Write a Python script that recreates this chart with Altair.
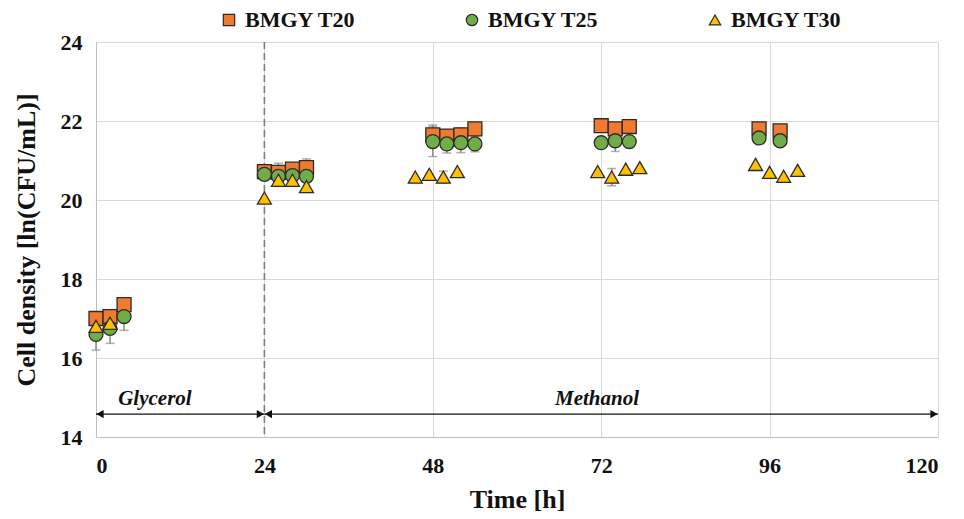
import altair as alt
import pandas as pd

series_names = ["BMGY T20", "BMGY T25", "BMGY T30"]
series_colors = ["#F07B2F", "#70AD47", "#FFC000"]
series_shapes = ["square", "circle", "triangle-up"]

T20_t = [0, 2, 4, 24, 26, 28, 30, 48, 50, 52, 54, 72, 74, 76, 94.5, 97.5]
T20_v = [17.0, 17.05, 17.35, 20.72, 20.7, 20.78, 20.82, 21.65, 21.62, 21.65, 21.8, 21.88, 21.8, 21.86, 21.8, 21.75]
T20_e = [0, 0, 0, 0, 0.23, 0, 0.22, 0.25, 0, 0.17, 0, 0, 0, 0, 0, 0]

T25_t = [0, 2, 4, 24, 26, 28, 30, 48, 50, 52, 54, 72, 74, 76, 94.5, 97.5]
T25_v = [16.6, 16.75, 17.05, 20.65, 20.6, 20.62, 20.6, 21.48, 21.42, 21.45, 21.42, 21.45, 21.5, 21.48, 21.57, 21.5]
T25_e = [0.4, 0.38, 0.35, 0, 0, 0, 0, 0.38, 0.23, 0.25, 0.2, 0, 0.27, 0, 0.1, 0.1]

T30_t = [0, 2, 24, 26, 28, 30, 45.5, 47.5, 49.5, 51.5, 71.5, 73.5, 75.5, 77.5, 94, 96, 98, 100]
T30_v = [16.8, 16.88, 20.05, 20.5, 20.5, 20.34, 20.58, 20.65, 20.58, 20.72, 20.72, 20.58, 20.78, 20.82, 20.9, 20.7, 20.6, 20.75]
T30_e = [0, 0, 0, 0, 0, 0.15, 0, 0, 0.15, 0, 0, 0.22, 0, 0, 0, 0, 0, 0]

x_ticks = [0, 24, 48, 72, 96, 120]
y_ticks = [14, 16, 18, 20, 22, 24]

# phase annotations
phase_labels = ["Glycerol", "Methanol"]
phase_start = [0, 24]
phase_end = [24, 120]
phase_text_x = [8.4, 71.4]
phase_text_y = 14.95
arrow_y = 14.58
switch_time = 24

rows = []
for name, ts, vs, es in [(series_names[0], T20_t, T20_v, T20_e),
                         (series_names[1], T25_t, T25_v, T25_e),
                         (series_names[2], T30_t, T30_v, T30_e)]:
    for t, v, e in zip(ts, vs, es):
        rows.append({"series": name, "t": t, "v": v, "e": e})
df = pd.DataFrame(rows)

phase_df = pd.DataFrame({"label": phase_labels, "x0": phase_start, "x1": phase_end,
                         "tx": phase_text_x, "ty": [phase_text_y] * 2, "ay": [arrow_y] * 2})

FONT = "Liberation Serif"

xscale = alt.Scale(domain=[0, 120], nice=False, zero=False)
yscale = alt.Scale(domain=[14, 24], nice=False, zero=False)

x_enc = alt.X("t:Q", scale=xscale, title="Time [h]",
              axis=alt.Axis(values=x_ticks, grid=True, ticks=False, labelPadding=18,
                            titlePadding=10, labelFontSize=22, titleFontSize=26,
                            labelFont=FONT, titleFont=FONT, labelFontWeight="bold",
                            titleFontWeight="bold", domainColor="#bfbfbf",
                            gridColor="#d9d9d9", labelColor="#111", titleColor="#111"))
y_enc = alt.Y("v:Q", scale=yscale, title="Cell density [ln(CFU/mL)]",
              axis=alt.Axis(values=y_ticks, grid=True, ticks=False, labelPadding=14,
                            titlePadding=21, labelFontSize=22, titleFontSize=26,
                            labelFont=FONT, titleFont=FONT, labelFontWeight="bold",
                            titleFontWeight="bold", domainColor="#bfbfbf",
                            gridColor="#d9d9d9", labelColor="#111", titleColor="#111"))

base = alt.Chart(df)

err = base.transform_filter("datum.e > 0").transform_calculate(
    lo="datum.v - datum.e", hi="datum.v + datum.e")
err_rule = err.mark_rule(color="#8c8c8c", strokeWidth=1.5).encode(
    x=alt.X("t:Q", scale=xscale), y=alt.Y("lo:Q", scale=yscale), y2="hi:Q")
cap_lo = err.mark_tick(orient="horizontal", color="#8c8c8c", size=9, thickness=1.5).encode(
    x=alt.X("t:Q", scale=xscale), y=alt.Y("lo:Q", scale=yscale))
cap_hi = err.mark_tick(orient="horizontal", color="#8c8c8c", size=9, thickness=1.5).encode(
    x=alt.X("t:Q", scale=xscale), y=alt.Y("hi:Q", scale=yscale))

switch = alt.Chart(pd.DataFrame({"t": [switch_time]})).mark_rule(
    color="#7f7f7f", strokeDash=[7, 4], strokeWidth=1.6).encode(
    x=alt.X("t:Q", scale=xscale))

points = base.mark_point(filled=True, size=195, stroke="#2b2b2b", strokeWidth=1.3, opacity=1).encode(
    x=x_enc, y=y_enc,
    color=alt.Color("series:N", scale=alt.Scale(domain=series_names, range=series_colors),
                    title=None,
                    legend=alt.Legend(orient="none", legendX=122, legendY=-33,
                                      direction="horizontal", columnPadding=105,
                                      labelFont=FONT, labelFontSize=22, labelFontWeight="bold",
                                      labelColor="#111", symbolSize=130,
                                      symbolStrokeColor="#2b2b2b", symbolStrokeWidth=1.2,
                                      labelOffset=5, padding=0)),
    shape=alt.Shape("series:N", scale=alt.Scale(domain=series_names, range=series_shapes),
                    title=None),
)

pb = alt.Chart(phase_df)
arrow_line = pb.mark_rule(color="#111", strokeWidth=1.3).encode(
    x=alt.X("x0:Q", scale=xscale), x2="x1:Q", y=alt.Y("ay:Q", scale=yscale))
head_l = pb.mark_point(shape="triangle-left", filled=True, color="#111", size=70, opacity=1,
                       xOffset=4).encode(x=alt.X("x0:Q", scale=xscale), y=alt.Y("ay:Q", scale=yscale))
head_r = pb.mark_point(shape="triangle-right", filled=True, color="#111", size=70, opacity=1,
                       xOffset=-4).encode(x=alt.X("x1:Q", scale=xscale), y=alt.Y("ay:Q", scale=yscale))
ptext = pb.mark_text(font=FONT, fontSize=21, fontStyle="italic", fontWeight="bold",
                     color="#111").encode(
    x=alt.X("tx:Q", scale=xscale), y=alt.Y("ty:Q", scale=yscale), text="label:N")

chart = alt.layer(switch, err_rule, cap_lo, cap_hi, points, arrow_line, head_l, head_r, ptext).properties(
    width=842, height=395,
    autosize=alt.AutoSizeParams(type="none"),
    padding={"left": 88, "top": 34, "right": 18, "bottom": 82},
    background="white",
).configure_view(stroke=None)

chart.save("out.html", embed_options={"renderer": "svg", "actions": False})
